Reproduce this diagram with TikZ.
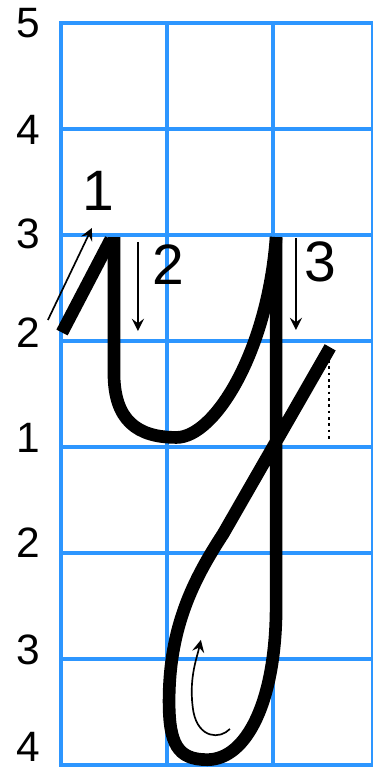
\documentclass[tikz,border=0pt]{standalone}
\usepackage{fontspec}
\setmainfont{Liberation Sans}
\definecolor{luoixanh}{RGB}{45,150,255}
\begin{document}
\begin{tikzpicture}[>=stealth,
    luoi/.style={luoixanh, line width=1.1pt, line cap=rect},
    net/.style={black, line width=3.4pt, line join=round},
    muiten/.style={->, black, line width=0.45pt},
    so/.style={inner sep=0pt, font=\fontsize{11.4}{13}\selectfont},
    sobuoc/.style={inner sep=0pt, font=\fontsize{15.3}{18}\selectfont}]
    % 1. Giới hạn vùng hiển thị
    \useasboundingbox (-0.575, -0.019) rectangle (2.943, 7.217);
    \clip (-0.575, -0.019) rectangle (2.943, 7.217);

    % 2. Lưới ô li màu xanh
    \foreach \y in {0,...,7}
        \draw[luoi] (0, \y) -- (3, \y);
    \foreach \x in {0, 1, 2, 2.943}
        \draw[luoi] (\x, 0) -- (\x, 7);

    % 3. Số dòng kẻ bên trái
    \foreach \y/\t [count=\i] in {7.0/5, 5.99/4, 5.01/3, 4.075/2, 3.085/1, 2.094/2, 1.085/3, 0.17/4}
        \node[so] (hang\i) at (-0.307, \y) {\t};

    % 4. Các điểm chính của chữ y
    \coordinate (A) at (0.01, 4.08);
    \coordinate (B) at (0.47, 4.96);
    \coordinate (C) at (0.5, 4.98);
    \coordinate (D) at (2.03, 4.98);
    \coordinate (E) at (2.54, 3.94);

    % 5. Nét 1: nét hất
    \draw[net] (A) -- (B);

    % 6. Nét 2: nét móc hai đầu
    \draw[net] (C) -- (0.5, 3.7) .. controls (0.5, 3.25) and (0.72, 3.09) .. (1.09, 3.09)
        .. controls (1.45, 3.09) and (1.95, 3.9) .. (D);

    % 7. Nét 3: nét khuyết dưới
    \draw[net] (D) -- (2.03, 1.5) .. controls (2.03, 0.6) and (1.75, 0.05) .. (1.38, 0.05)
        .. controls (1.1, 0.05) and (1.02, 0.2) .. (1.02, 0.6)
        .. controls (1.02, 1.3) and (1.25, 1.75) .. (1.53, 2.18) -- (E);

    % 8. Mũi tên chỉ hướng viết và số thứ tự nét
    \coordinate (M1) at (-0.123, 4.198);
    \coordinate (N1) at (0.292, 5.066);
    \coordinate (M2) at (0.726, 4.934);
    \coordinate (N2) at (0.726, 4.094);
    \coordinate (M3) at (2.217, 4.972);
    \coordinate (N3) at (2.217, 4.104);
    \draw[muiten] (M1) -- (N1);
    \draw[muiten] (M2) -- (N2);
    \draw[muiten] (M3) -- (N3);
    \node[sobuoc] (buoc1) at (0.35, 5.415) {1};
    \node[sobuoc] (buoc2) at (1.009, 4.717) {2};
    \node[sobuoc] (buoc3) at (2.443, 4.745) {3};

    % 9. Đường chấm dóng xuống
    \draw[black, line width=0.7pt, dash pattern=on 0.7pt off 1pt] (2.528, 3.82) -- (2.528, 3.047);

    % 10. Mũi tên cong trong vòng khuyết
    \draw[muiten] (1.594, 0.34) .. controls (1.5, 0.24) and (1.3, 0.25) .. (1.25, 0.5)
        .. controls (1.2, 0.8) and (1.28, 1.0) .. (1.32, 1.18);
\end{tikzpicture}
\end{document}
